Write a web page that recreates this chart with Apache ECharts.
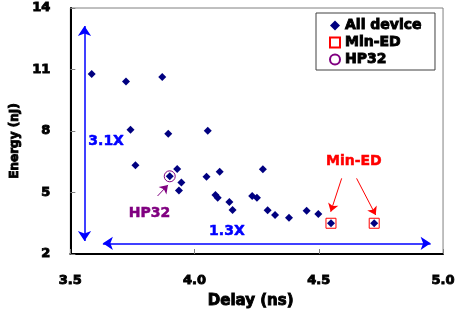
<!DOCTYPE html>
<html>
<head>
<meta charset="utf-8">
<script src="https://cdn.jsdelivr.net/npm/echarts@6/dist/echarts.min.js"></script>
<style>
  html, body { margin: 0; padding: 0; background: #fff; }
  #chart { width: 458px; height: 320px; }
</style>
</head>
<body>
<div id="chart"></div>
<script>
// delay (ns), energy (nJ)
const allDevice = [
  [3.586, 10.78], [3.724, 10.42], [3.870, 10.63], [3.742, 8.06], [3.894, 7.87],
  [3.762, 6.33], [3.930, 6.15], [3.900, 5.79], [3.947, 5.49], [3.937, 5.10],
  [4.053, 8.01], [4.048, 5.77], [4.101, 6.01], [4.084, 4.88], [4.093, 4.75],
  [4.140, 4.54], [4.153, 4.15], [4.275, 6.13], [4.232, 4.83], [4.251, 4.75],
  [4.294, 4.13], [4.324, 3.90], [4.380, 3.77], [4.451, 4.11], [4.498, 3.95],
  [4.549, 3.50], [4.723, 3.50]
];
const minED = [[4.549, 3.50], [4.723, 3.50]];
const hp32 = [[3.900, 5.79]];

const xTicks = { min: 3.5, max: 5.0, step: 0.5 };
const yTicks = { min: 2, max: 14, step: 3 };

const FONT = "DejaVu Sans";
const BLUE = "#0000ff";
const RED = "#ff0000";
const PURPLE = "#800080";
const NAVY = "#000080";

// annotation text and arrows, in data space
const notes = [
  { text: "3.1X", at: [3.644, 7.51], color: BLUE },
  { text: "1.3X", at: [4.130, 3.09], color: BLUE },
  { text: "HP32", at: [3.819, 4.00], color: PURPLE },
  { text: "Min-ED", at: [4.641, 6.50], color: RED }
];
const arrows = [
  { from: [3.557, 13.12], to: [3.557, 2.63], both: true, color: BLUE, width: 1.5 },
  { from: [3.631, 2.52], to: [4.950, 2.52], both: true, color: BLUE, width: 1.5 },
  { from: [3.851, 4.83], to: [3.893, 5.37], both: false, color: PURPLE, width: 1 },
  { from: [4.592, 5.69], to: [4.548, 4.06], both: false, color: RED, width: 1 },
  { from: [4.652, 5.69], to: [4.729, 3.90], both: false, color: RED, width: 1 }
];

const chart = echarts.init(document.getElementById("chart"));

const boldText = (size, color, stroke) => ({
  fontFamily: FONT, fontWeight: "bold", fontSize: size, color: color,
  textBorderColor: color, textBorderWidth: stroke == null ? 0.9 : stroke
});

const option = {
  animation: false,
  backgroundColor: "#fff",
  grid: {
    left: 63, top: 8, right: 9, bottom: 66,
    show: true, borderColor: "#808080", borderWidth: 1
  },
  legend: {
    orient: "vertical",
    left: 316, top: 13,
    padding: [4, 13, 2, 13],
    itemWidth: 10, itemHeight: 10, itemGap: 0,
    borderColor: "#404040", borderWidth: 1,
    backgroundColor: "#fff",
    textStyle: Object.assign(boldText(14, "#000"), { lineHeight: 17 }),
    data: [
      { name: "All device", icon: "diamond", itemStyle: { color: NAVY, opacity: 1 } },
      { name: "Min-ED", icon: "rect" },
      { name: "HP32", icon: "circle" }
    ]
  },
  xAxis: {
    type: "value",
    min: xTicks.min, max: xTicks.max, interval: xTicks.step,
    name: "Delay (ns)", nameLocation: "middle", nameGap: 40,
    nameTextStyle: Object.assign(boldText(15, "#000"), { padding: [0, 12, 0, 0] }),
    axisLine: { lineStyle: { color: "#000", width: 2 } },
    axisTick: { inside: true, length: 5, lineStyle: { color: "#808080" } },
    axisLabel: Object.assign(boldText(13, "#000"), {
      margin: 20, formatter: v => v.toFixed(1)
    }),
    splitLine: { show: false }
  },
  yAxis: {
    type: "value",
    min: yTicks.min, max: yTicks.max, interval: yTicks.step,
    name: "Energy (nJ)", nameLocation: "middle", nameGap: 40,
    nameTextStyle: Object.assign(boldText(12, "#000"), { padding: [0, 20, 0, 0] }),
    axisLine: { lineStyle: { color: "#000", width: 2 } },
    axisTick: { inside: true, length: 5, lineStyle: { color: "#808080" } },
    axisLabel: Object.assign(boldText(13, "#000"), { margin: 20 }),
    splitLine: { show: false }
  },
  series: [
    {
      name: "All device",
      type: "scatter",
      symbol: "diamond",
      symbolSize: 8,
      itemStyle: { color: NAVY, opacity: 1 },
      data: allDevice,
      z: 3,
      markLine: {
        silent: true,
        label: { show: false },
        data: arrows.map(a => [
          {
            coord: a.from,
            symbol: a.both ? "arrow" : "none",
            symbolSize: a.both ? 10 : 0,
            lineStyle: { color: a.color, width: a.width, type: "solid" }
          },
          { coord: a.to, symbol: "arrow", symbolSize: a.both ? 10 : 8 }
        ])
      },
      markPoint: {
        silent: true,
        symbol: "rect",
        symbolSize: 0,
        data: notes.map(n => ({
          coord: n.at,
          label: Object.assign(boldText(14, n.color, 0.5), {
            show: true, position: "inside", formatter: n.text
          })
        }))
      }
    },
    {
      name: "Min-ED",
      type: "scatter",
      symbol: "rect",
      symbolSize: 10,
      itemStyle: { color: "rgba(0,0,0,0)", borderColor: RED, borderWidth: 1, opacity: 1 },
      data: minED,
      z: 2
    },
    {
      name: "HP32",
      type: "scatter",
      symbol: "circle",
      symbolSize: 11,
      itemStyle: { color: "rgba(0,0,0,0)", borderColor: PURPLE, borderWidth: 1, opacity: 1 },
      data: hp32,
      z: 2
    }
  ]
};

chart.setOption(option);
</script>
</body>
</html>
